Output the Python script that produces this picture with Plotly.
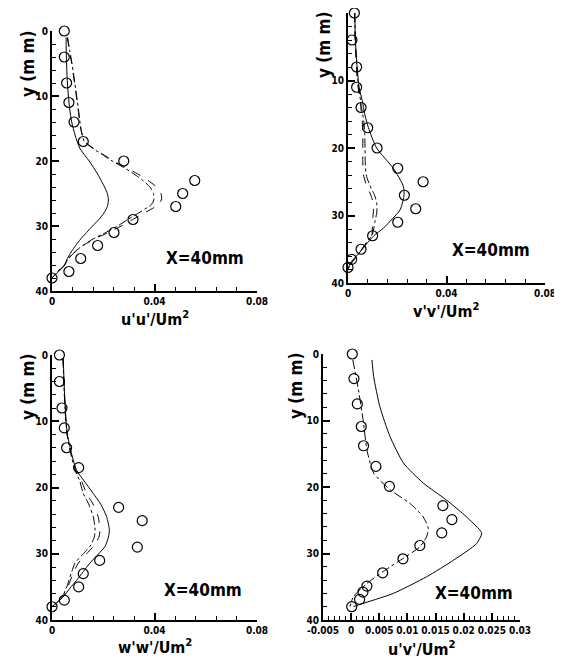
import plotly.graph_objects as go

W, H = 562, 667
OFF = 8  # page body margin in the browser
FONT = "Liberation Sans Narrow, DejaVu Sans Condensed, Liberation Sans, Arial"

# ---------------- Panel 1: u'u'/Um^2 ----------------
exp_y1 = [0, 4, 8, 11, 14, 17, 20, 23, 25, 27, 29, 31, 33, 35, 37, 38]
exp_uu = [0.0048, 0.0048, 0.0057, 0.0066, 0.0086, 0.0122, 0.028, 0.0557, 0.051, 0.0483,
          0.0316, 0.0242, 0.0178, 0.0112, 0.0066, 0.0]
sol_y1 = [1, 4, 8, 10, 12, 14, 16, 18, 20, 22, 24, 25, 26, 27, 28, 29, 30, 31, 32, 33, 34, 35, 36.2, 37, 38]
sol_uu = [0.0055, 0.0056, 0.006, 0.0064, 0.0069, 0.0077, 0.009, 0.0108, 0.0145, 0.0178, 0.0205,
          0.0216, 0.022, 0.0216, 0.0203, 0.0183, 0.0158, 0.0135, 0.0112, 0.0092, 0.0075, 0.006,
          0.0046, 0.0025, 0.0]
das_y1 = [1, 3, 5, 8, 10, 12, 14, 15.5, 17, 18, 19, 20, 21, 22, 23, 24, 25, 25.8, 26.5, 27, 28,
          29, 30, 31, 32, 33, 34, 35, 36, 37, 38]
das_uu = [0.006, 0.0068, 0.0077, 0.0088, 0.0095, 0.0102, 0.0108, 0.0115, 0.0128, 0.016, 0.02,
          0.024, 0.029, 0.0335, 0.0375, 0.0408, 0.0425, 0.0428, 0.042, 0.0405, 0.036, 0.0315,
          0.027, 0.022, 0.0165, 0.0122, 0.009, 0.0065, 0.005, 0.0022, 0.0]
dd_y1 = das_y1
dd_uu = [0.0061, 0.0069, 0.0078, 0.0089, 0.0096, 0.0103, 0.0109, 0.0115, 0.0126, 0.0157, 0.0196,
         0.0235, 0.028, 0.032, 0.0355, 0.0382, 0.0396, 0.0398, 0.0392, 0.0378, 0.0338, 0.0296,
         0.0256, 0.021, 0.016, 0.012, 0.0088, 0.0063, 0.005, 0.0022, 0.0]

# ---------------- Panel 2: v'v'/Um^2 ----------------
exp_y2 = [0, 4, 8, 11, 14, 17, 20, 23, 25, 27, 29, 31, 33, 35, 36.5, 37.7]
exp_vv = [0.0026, 0.0016, 0.0035, 0.0035, 0.0053, 0.008, 0.0118, 0.0202, 0.0305, 0.0229,
          0.0275, 0.0202, 0.01, 0.0053, 0.0015, 0.0]
sol_y2 = [0, 4, 8, 11, 13, 15, 17, 20, 23, 25.7, 27.2, 29.2, 30.5, 31.9, 33, 34, 35.4, 37.1, 38]
sol_vv = [0.0028, 0.003, 0.0037, 0.0045, 0.0058, 0.0068, 0.0083, 0.0116, 0.0184, 0.0225, 0.0227,
          0.0211, 0.018, 0.0143, 0.0105, 0.008, 0.0049, 0.0008, 0.0]
das_y2 = [0, 5, 10, 14, 16, 18, 20, 22, 24, 25.5, 27, 28.3, 29.5, 31, 32.8, 34, 35.5, 37, 38]
das_vv = [0.0026, 0.003, 0.0038, 0.0052, 0.0058, 0.006, 0.006, 0.006, 0.0063, 0.0075, 0.0093,
          0.0103, 0.0103, 0.0099, 0.0097, 0.0075, 0.0046, 0.0015, 0.0]
dd_y2 = das_y2
dd_vv = [0.0027, 0.0031, 0.004, 0.0055, 0.0064, 0.0068, 0.0069, 0.007, 0.0074, 0.0088, 0.0108,
         0.0117, 0.0117, 0.0109, 0.0099, 0.0076, 0.0047, 0.0015, 0.0]

# ---------------- Panel 3: w'w'/Um^2 ----------------
exp_y3 = [0, 4, 8, 11, 14, 17, 23, 25, 29, 31, 33, 35, 37, 38]
exp_ww = [0.0029, 0.0029, 0.0039, 0.0048, 0.0057, 0.0104, 0.026, 0.0352, 0.0333, 0.0186,
          0.0122, 0.0104, 0.0048, 0.0]
sol_y3 = [0.5, 5, 10, 12, 15, 17.4, 19, 20.9, 22.5, 24.4, 26.4, 27.5, 28.9, 30, 31.4, 32.7, 34,
          35.2, 36.5, 37.2, 38]
sol_ww = [0.0044, 0.0048, 0.0055, 0.006, 0.0077, 0.0096, 0.0125, 0.0161, 0.019, 0.0213, 0.0224,
          0.022, 0.0207, 0.0182, 0.0148, 0.0122, 0.0096, 0.007, 0.0044, 0.0025, 0.0]
das_y3 = sol_y3
das_ww = [0.0043, 0.0047, 0.0054, 0.0059, 0.0075, 0.0093, 0.0115, 0.0135, 0.016, 0.018, 0.0187,
          0.0183, 0.0161, 0.0135, 0.0103, 0.0085, 0.0072, 0.006, 0.0042, 0.0025, 0.0]
dd_y3 = sol_y3
dd_ww = [0.0043, 0.0047, 0.0054, 0.0059, 0.0074, 0.009, 0.0108, 0.0122, 0.0143, 0.0161, 0.0168,
         0.0165, 0.0148, 0.0122, 0.009, 0.0077, 0.0066, 0.0056, 0.004, 0.0024, 0.0]

# ---------------- Panel 4: u'v'/Um^2 ----------------
exp_y4 = [0, 3.7, 7.5, 10.9, 13.8, 16.9, 19.9, 22.8, 24.9, 26.9, 28.8, 30.8, 32.9, 34.9, 35.8,
          36.9, 38]
exp_uv = [0.0002, 0.0005, 0.0011, 0.0018, 0.0022, 0.0044, 0.0068, 0.0163, 0.0179, 0.0161,
          0.0122, 0.0092, 0.0056, 0.0028, 0.0021, 0.0015, 0.0001]
sol_y4 = [0.9, 3.4, 7.9, 12.4, 16.4, 19.4, 22, 24.5, 26.5, 27, 28.5, 31, 33.5, 36, 37, 37.6, 38]
sol_uv = [0.0037, 0.004, 0.0051, 0.0069, 0.0093, 0.0128, 0.017, 0.0205, 0.0229, 0.0232, 0.0223,
          0.0182, 0.0134, 0.0075, 0.004, 0.0018, 0.0004]
dd_y4 = [0.9, 5.4, 10.4, 14.4, 17.9, 20.4, 22.5, 24.5, 26.2, 27.5, 29, 30.7, 32.7, 34.5, 36.5, 38]
dd_uv = [0.0003, 0.0013, 0.0022, 0.0028, 0.004, 0.0069, 0.0105, 0.0128, 0.0137, 0.0134, 0.0122,
         0.0093, 0.0057, 0.0028, 0.0004, -0.0002]

# tick labels
y_ticks = [0, 10, 20, 30, 40]
x_ticks_a = [0, 0.04, 0.08]
x_text_a = ["0", "0.04", "0.08"]
x_ticks_b = [-0.005, 0, 0.005, 0.01, 0.015, 0.02, 0.025, 0.03]
x_text_b = ["-0.005", "0", "0.005", "0.01", "0.015", "0.02", "0.025", "0.03"]

x_titles = ["u'u'/Um<sup>2</sup>", "v'v'/Um<sup>2</sup>", "w'w'/Um<sup>2</sup>", "u'v'/Um<sup>2</sup>"]
label = "X=40mm"

# pixel frames of the four panels on the page: (x0, x1, ytop, ybottom)
frames = [(52, 257, 31, 291), (348, 545, 13, 283), (52, 257, 355, 620), (323, 520, 354, 620)]

fig = go.Figure()

panels = [
    (exp_y1, exp_uu, sol_y1, sol_uu, das_y1, das_uu, dd_y1, dd_uu),
    (exp_y2, exp_vv, sol_y2, sol_vv, das_y2, das_vv, dd_y2, dd_vv),
    (exp_y3, exp_ww, sol_y3, sol_ww, das_y3, das_ww, dd_y3, dd_ww),
    (exp_y4, exp_uv, sol_y4, sol_uv, None, None, dd_y4, dd_uv),
]

for i, p in enumerate(panels):
    ey, ex, sy, sx, dy, dx, ddy, ddx = p
    xa = "x" if i == 0 else f"x{i+1}"
    ya = "y" if i == 0 else f"y{i+1}"
    line_kw = dict(color="black", width=1, shape="spline", smoothing=0.6)
    fig.add_trace(go.Scatter(x=sx, y=sy, mode="lines", line=dict(**line_kw, dash="solid"),
                             xaxis=xa, yaxis=ya, showlegend=False, cliponaxis=False))
    if dy is not None:
        fig.add_trace(go.Scatter(x=dx, y=dy, mode="lines", line=dict(**line_kw, dash="dash"),
                                 xaxis=xa, yaxis=ya, showlegend=False, cliponaxis=False))
    fig.add_trace(go.Scatter(x=ddx, y=ddy, mode="lines", line=dict(**line_kw, dash="dashdot"),
                             xaxis=xa, yaxis=ya, showlegend=False, cliponaxis=False))
    fig.add_trace(go.Scatter(x=ex, y=ey, mode="markers",
                             marker=dict(symbol="circle-open", size=10, color="black",
                                         line=dict(width=1.2, color="black")),
                             xaxis=xa, yaxis=ya, showlegend=False, cliponaxis=False))

axis_common = dict(showline=True, linecolor="black", linewidth=2, ticks="inside",
                   tickcolor="black", tickwidth=1.5, ticklen=7, showgrid=False, zeroline=False,
                   automargin=False,
                   tickfont=dict(family=FONT, size=10, color="black", weight="bold"))

layout = dict(width=W, height=H, margin=dict(l=0, r=0, t=0, b=0, pad=0, autoexpand=False),
              autosize=False,
              paper_bgcolor="white", plot_bgcolor="white", showlegend=False)


def px2x(px):
    return (px - OFF) / W


def px2y(py):
    return 1 - (py - OFF) / H


for i, (x0, x1, yt, yb) in enumerate(frames):
    sfx = "" if i == 0 else str(i + 1)
    xdom = [px2x(x0), px2x(x1)]
    ydom = [px2y(yb), px2y(yt)]
    if i == 3:
        xr = [-0.005, 0.03]
        xt, xtt = x_ticks_b, x_text_b
        mdt = 0.001
    else:
        xr = [0, 0.08]
        xt, xtt = x_ticks_a, x_text_a
        mdt = 0.008
    layout["xaxis" + sfx] = dict(**axis_common, domain=xdom, range=xr, tickmode="array",
                                 tickvals=xt, ticktext=xtt, anchor="y" + sfx,
                                 minor=dict(ticks="inside", dtick=mdt, tick0=0, ticklen=4,
                                            tickwidth=1.2, tickcolor="black"))
    layout["yaxis" + sfx] = dict(**axis_common, domain=ydom, range=[40, 0], tickmode="array",
                                 tickvals=y_ticks, anchor="x" + sfx,
                                 minor=dict(ticks="inside", dtick=2, tick0=0, ticklen=4,
                                            tickwidth=1.2, tickcolor="black"))

fig.update_layout(**layout)

title_font = dict(family=FONT, size=16, color="black", weight="bold")
ann = []
xt_pos = [(155, 318), (446, 310), (155, 646), (421, 648)]
yt_pos = [(28, 64), (324, 45), (28, 387), (296, 386)]
lab_pos = [(205, 258), (491, 250), (203, 590), (474, 593)]
for i in range(4):
    px, py = xt_pos[i]
    ann.append(dict(x=px2x(px), y=px2y(py), xref="paper", yref="paper", text=x_titles[i],
                    showarrow=False, font=title_font, xanchor="center", yanchor="middle"))
    px, py = yt_pos[i]
    ann.append(dict(x=px2x(px), y=px2y(py), xref="paper", yref="paper", text="y (m m)",
                    textangle=-90, showarrow=False,
                    font=dict(family=FONT, size=17, color="black", weight="bold"),
                    xanchor="center", yanchor="middle"))
    px, py = lab_pos[i]
    ann.append(dict(x=px2x(px), y=px2y(py), xref="paper", yref="paper", text=label,
                    showarrow=False, font=dict(family=FONT, size=17, color="black", weight="bold"),
                    xanchor="center", yanchor="middle"))
fig.update_layout(annotations=ann)

fig.write_html("out.html")
